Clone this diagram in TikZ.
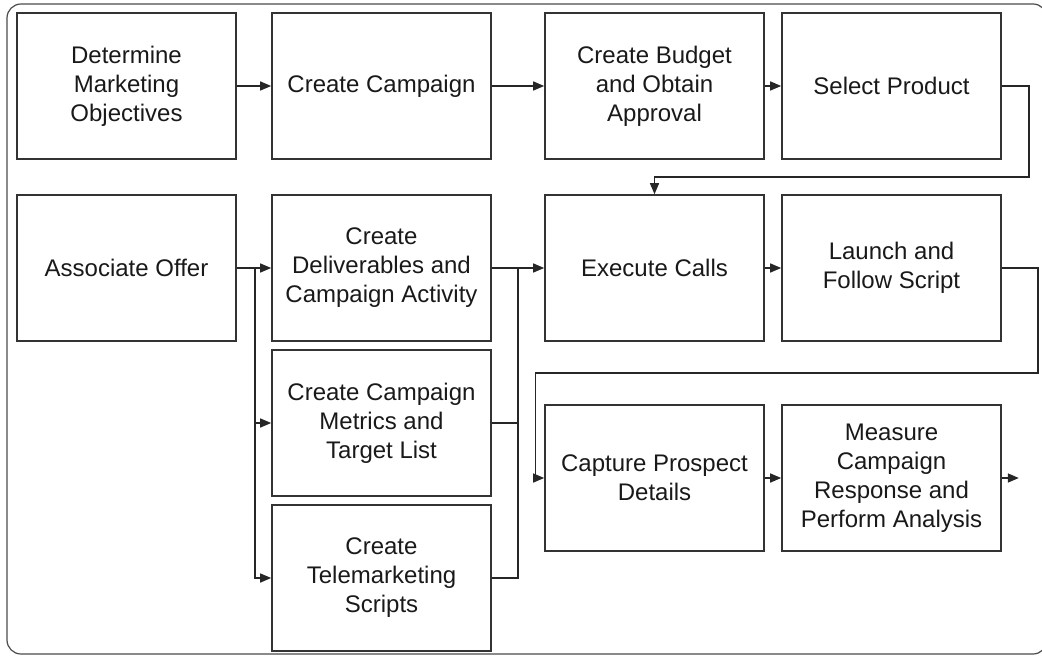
\documentclass[tikz,border=0pt]{standalone}
\usepackage{fontspec}
\setmainfont{Liberation Sans}
\usetikzlibrary{arrows.meta,calc}

\begin{document}
\begin{tikzpicture}[x=0.5pt,y=-0.5pt,
    >={Triangle[length=5.5pt,width=4.5pt]},
    box/.style={draw=black!80, line width=0.8pt, minimum width=109.5pt, minimum height=73pt,
        align=center, inner sep=0pt, text=black!90, font=\fontsize{12}{14.5}\selectfont},
    flow/.style={draw=black!85, line width=0.7pt}]
    \useasboundingbox (0,0) rectangle (1042,657);
    % Frame
    \draw[black!70, line width=0.6pt, rounded corners=7pt] (7,4) rectangle (1047,654);

    % Boxes
    \node[box] (objectives) at (126.5,86) {Determine\\Marketing\\Objectives};
    \node[box] (campaign) at (381.5,86) {Create Campaign};
    \node[box] (budget) at (654.5,86) {Create Budget\\and Obtain\\Approval};
    \node[box] (product) at (891.5,86) {Select Product};
    \node[box] (offer) at (126.5,268) {Associate Offer};
    \node[box] (deliverables) at (381.5,268) {Create\\Deliverables and\\Campaign Activity};
    \node[box] (metrics) at (381.5,423) {Create Campaign\\Metrics and\\Target List};
    \node[box] (scripts) at (381.5,578) {Create\\Telemarketing\\Scripts};
    \node[box] (calls) at (654.5,268) {Execute Calls};
    \node[box] (launch) at (891.5,268) {Launch and\\Follow Script};
    \node[box] (prospect) at (654.5,478) {Capture Prospect\\Details};
    \node[box] (measure) at (891.5,478) {Measure\\Campaign\\Response and\\Perform Analysis};
    \coordinate (finish) at ($(measure.east)+(17,0)$);

    % Connectors
    \draw[flow,->] (objectives) -- (campaign);
    \draw[flow,->] (campaign) -- (budget);
    \draw[flow,->] (budget) -- (product);
    \draw[flow,->] (product.east) -- ++(27,0) -- ++(0,91) -| (calls.north);
    \draw[flow,->] (offer) -- (deliverables);
    \draw[flow,->] (offer.east) -- ++(18,0) |- (metrics);
    \draw[flow,->] (offer.east) -- ++(18,0) |- (scripts);
    \draw[flow] (scripts.east) -- ++(26,0) |- (deliverables.east);
    \draw[flow] (metrics.east) -- ++(26,0);
    \draw[flow,->] (deliverables) -- (calls);
    \draw[flow,->] (calls) -- (launch);
    \draw[flow,->] (launch.east) -- ++(36,0) -- ++(0,105) -| ($(prospect.west)+(-9,0)$) -- (prospect.west);
    \draw[flow,->] (prospect) -- (measure);
    \draw[flow,->] (measure.east) -- (finish);
\end{tikzpicture}
\end{document}
